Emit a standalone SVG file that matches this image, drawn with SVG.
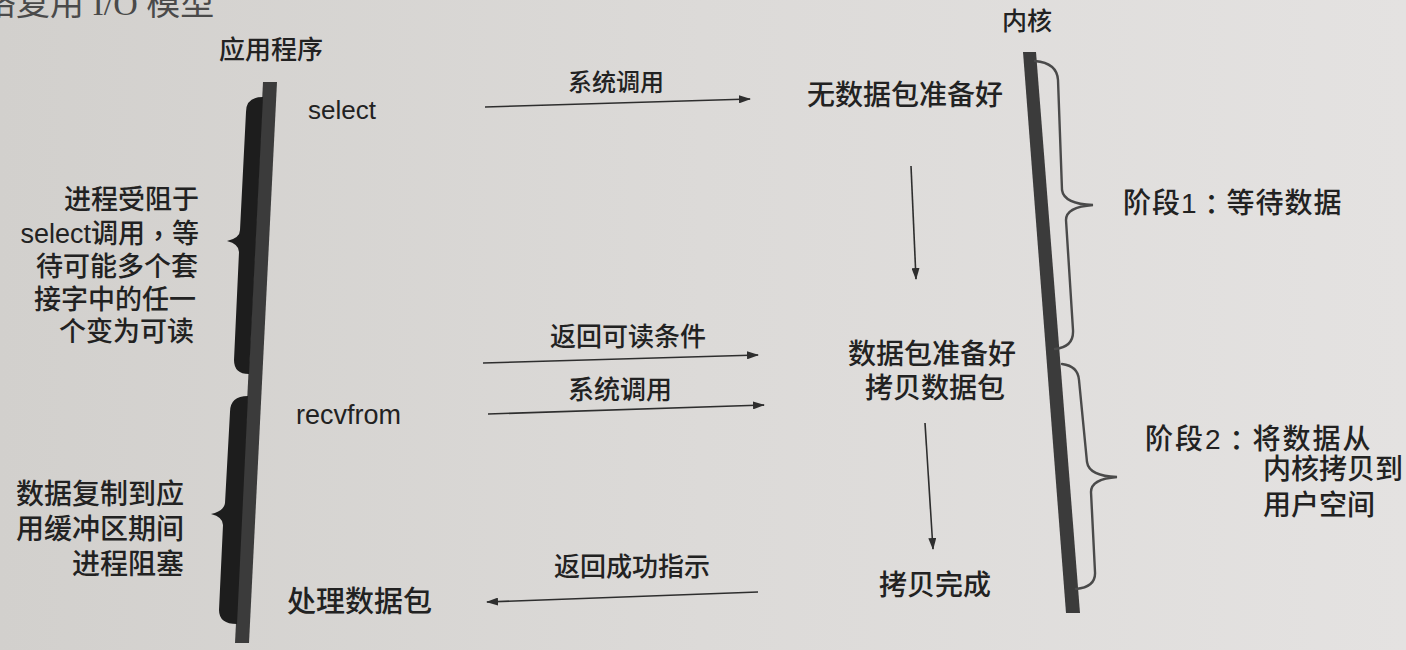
<svg xmlns="http://www.w3.org/2000/svg" width="1406" height="650" viewBox="0 0 1406 650">
  <defs>
    <linearGradient id="paper" x1="0" y1="0" x2="1" y2="0">
      <stop offset="0" stop-color="#d2d0cd"/>
      <stop offset="0.5" stop-color="#dcdad8"/>
      <stop offset="1" stop-color="#e4e2e1"/>
    </linearGradient>
    <marker id="head" viewBox="0 0 12 8" refX="11" refY="4" markerWidth="12" markerHeight="8" markerUnits="userSpaceOnUse" orient="auto">
      <path d="M0,0 L12,4 L0,8 Z" fill="#2e2e2e"/>
    </marker>
    <style>
      text { font-family: "Liberation Sans", "Noto Sans CJK SC", sans-serif; fill: #222; font-weight: 500; }
      .mid { text-anchor: middle; dominant-baseline: central; }
      .end { text-anchor: end; dominant-baseline: central; }
      .start { text-anchor: start; dominant-baseline: central; }
      .punct { font-family: "Noto Sans CJK TC", "Noto Sans CJK SC", sans-serif; }
      .msg { stroke: #2e2e2e; stroke-width: 1.6; fill: none; marker-end: url(#head); }
      .bar { fill: #3b3b3b; }
      .thick { fill: #1d1d1d; }
      .thin { fill: none; stroke: #4a4a4a; stroke-width: 2.4; stroke-linecap: round; }
    </style>
  </defs>

  <rect width="1406" height="650" fill="url(#paper)"/>

  <!-- running heading of the page, cut by the top edge -->
  <text x="-18" y="15" style="font-family: 'Liberation Serif', 'Noto Sans CJK SC', serif; font-size: 34px; font-weight: 400; fill: #4a4a4a;">络复用 I/O 模型</text>

  <!-- application timeline -->
  <g id="app">
    <text class="mid" x="271" y="50" font-size="26">应用程序</text>
    <polygon class="bar" points="263,82 277,82 249,643 235,643"/>
  </g>

  <!-- kernel timeline -->
  <g id="kernel">
    <text class="mid" x="1027" y="21" font-size="25">内核</text>
    <polygon class="bar" points="1023,52 1036,52 1080,613 1066,613"/>
  </g>

  <!-- blocked in select -->
  <g id="block-select">
    <path class="thick" d="M263,97 Q246,97 246,112 L240,230 Q240,238 227,241 Q239,244 239,252 L234,360 Q234,374 249,374 Z"/>
    <text class="end" font-size="27" x="199" y="200">进程受阻于</text>
    <text class="end" font-size="27" x="199" y="234">select调用<tspan class="punct">，</tspan>等</text>
    <text class="end" font-size="27" x="198" y="267">待可能多个套</text>
    <text class="end" font-size="27" x="196" y="300">接字中的任一</text>
    <text class="end" font-size="27" x="194" y="332">个变为可读</text>
  </g>

  <!-- blocked while copying -->
  <g id="block-copy">
    <path class="thick" d="M248,396 Q230,396 230,412 L225,503 Q224,511 211,514 Q223,517 223,525 L219,610 Q219,624 237,624 Z"/>
    <text class="end" font-size="28" x="184" y="494">数据复制到应</text>
    <text class="end" font-size="28" x="184" y="529">用缓冲区期间</text>
    <text class="end" font-size="28" x="184" y="564">进程阻塞</text>
  </g>

  <!-- application steps -->
  <g id="step-select">
    <text class="start" x="308" y="110" font-size="26">select</text>
  </g>
  <g id="step-recvfrom">
    <text class="start" x="296" y="415" font-size="27">recvfrom</text>
  </g>
  <g id="step-process">
    <text class="start" x="287" y="602" font-size="29">处理数据包</text>
  </g>

  <!-- kernel states -->
  <g id="state-nodata">
    <text class="mid" x="905" y="95" font-size="28">无数据包准备好</text>
  </g>
  <g id="state-ready">
    <text class="mid" x="932" y="354" font-size="28">数据包准备好</text>
    <text class="mid" x="935" y="388" font-size="28">拷贝数据包</text>
  </g>
  <g id="state-done">
    <text class="mid" x="935" y="585" font-size="28">拷贝完成</text>
  </g>

  <!-- phases -->
  <g id="phase1">
    <path class="thin" d="M1035,61 Q1057,63 1058,80 L1062,190 Q1064,204 1093,205 Q1066,207 1066,220 L1073,330 Q1074,347 1055,349"/>
    <text class="start" x="1123" y="203" font-size="28" letter-spacing="1">阶段1<tspan class="punct">：</tspan>等待数据</text>
  </g>
  <g id="phase2">
    <path class="thin" d="M1062,364 Q1078,366 1079,380 L1087,462 Q1089,476 1117,477 Q1091,479 1091,492 L1095,572 Q1096,587 1076,589"/>
    <text class="start" x="1145" y="439" font-size="28" letter-spacing="2">阶段2<tspan class="punct">：</tspan>将数据从</text>
    <text class="start" x="1263" y="469" font-size="28">内核拷贝到</text>
    <text class="start" x="1263" y="505" font-size="28">用户空间</text>
  </g>

  <!-- connectors -->
  <g id="connectors">
    <path class="msg" d="M485,107 L750,99"/>
    <text class="mid" x="616" y="82" font-size="24">系统调用</text>

    <path class="msg" d="M911,166 L916,279"/>

    <path class="msg" d="M483,363 L758,355"/>
    <text class="mid" x="628" y="337" font-size="26">返回可读条件</text>

    <path class="msg" d="M488,414 L764,405"/>
    <text class="mid" x="620" y="390" font-size="26">系统调用</text>

    <path class="msg" d="M925,423 L933,549"/>

    <path class="msg" d="M758,592 L487,602"/>
    <text class="mid" x="632" y="567" font-size="26">返回成功指示</text>
  </g>
</svg>
